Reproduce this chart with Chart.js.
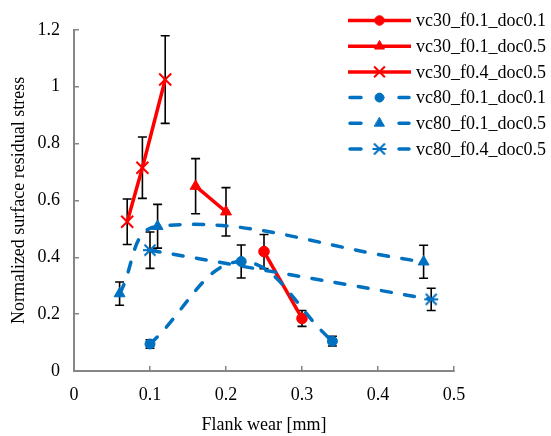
<!DOCTYPE html>
<html><head><meta charset="utf-8">
<script src="https://cdn.jsdelivr.net/npm/chart.js@4.4.0/dist/chart.umd.min.js"></script>
<style>html,body{margin:0;padding:0;background:#fff}#wrap{width:551px;height:436px}</style>
</head><body><div id="wrap"><canvas id="c" width="551" height="436"></canvas></div>
<script>
// ---- data ----
const seriesLabels = ['vc30_f0.1_doc0.1','vc30_f0.1_doc0.5','vc30_f0.4_doc0.5','vc80_f0.1_doc0.1','vc80_f0.1_doc0.5','vc80_f0.4_doc0.5'];

const vc30_f01_doc01_x   = [0.25, 0.30];
const vc30_f01_doc01_y   = [0.42, 0.185];
const vc30_f01_doc01_err = [0.06, 0.028];

const vc30_f01_doc05_x   = [0.16, 0.20];
const vc30_f01_doc05_y   = [0.65, 0.56];
const vc30_f01_doc05_err = [0.097, 0.085];

const vc30_f04_doc05_x   = [0.07, 0.09, 0.12];
const vc30_f04_doc05_y   = [0.525, 0.715, 1.025];
const vc30_f04_doc05_err = [0.08, 0.108, 0.154];

const vc80_f01_doc01_x   = [0.10, 0.22, 0.34];
const vc80_f01_doc01_y   = [0.095, 0.385, 0.105];
const vc80_f01_doc01_err = [0.015, 0.058, 0.017];

const vc80_f01_doc05_x   = [0.06, 0.11, 0.46];
const vc80_f01_doc05_y   = [0.272, 0.509, 0.384];
const vc80_f01_doc05_err = [0.041, 0.077, 0.058];

const vc80_f04_doc05_x   = [0.10, 0.47];
const vc80_f04_doc05_y   = [0.425, 0.252];
const vc80_f04_doc05_err = [0.064, 0.039];

const xAxisTitle = 'Flank wear [mm]';
const yAxisTitle = 'Normalized surface residual stress';
const xMin = 0, xMax = 0.5, xStep = 0.1;
const yMin = 0, yMax = 1.2, yStep = 0.2;

// ---- build ----
const RED = '#FF0000', BLUE = '#0070C0', AXIS = '#868686';
const FONT = 'Liberation Serif';
function pts(xs, ys){ return xs.map((x,i)=>({x:x, y:ys[i]})); }

// asterisk marker (x with horizontal bar), like the spreadsheet "star" marker
const starMarker = (function(){
  const c = document.createElement('canvas'); c.width = 16; c.height = 16;
  const g = c.getContext('2d'); g.strokeStyle = BLUE; g.lineWidth = 2;
  g.beginPath();
  g.moveTo(2.5,2.5); g.lineTo(13.5,13.5);
  g.moveTo(13.5,2.5); g.lineTo(2.5,13.5);
  g.moveTo(1,8); g.lineTo(15,8);
  g.stroke();
  return c;
})();

function redSeries(label, xs, ys, err, style, r){
  return {label, data: pts(xs,ys), errorBars: err, showLine:true, borderColor:RED, borderWidth:3.5,
    tension:0, pointStyle:style, pointRadius:r, pointHoverRadius:r, pointBackgroundColor:RED,
    pointBorderColor:RED, pointBorderWidth: style==='crossRot'?2:1, order:1};
}
function blueSeries(label, xs, ys, err, style, r){
  return {label, data: pts(xs,ys), errorBars: err, showLine:true, borderColor:BLUE, borderWidth:3.5,
    borderDash:[10,13.5], borderCapStyle:'round', tension:0.4, pointStyle:style, pointRadius:r, pointHoverRadius:r,
    pointBackgroundColor:BLUE, pointBorderColor:BLUE, pointBorderWidth:1, order:0};
}
const datasets = [
  redSeries(seriesLabels[0], vc30_f01_doc01_x, vc30_f01_doc01_y, vc30_f01_doc01_err, 'circle', 5.3),
  redSeries(seriesLabels[1], vc30_f01_doc05_x, vc30_f01_doc05_y, vc30_f01_doc05_err, 'triangle', 6.3),
  redSeries(seriesLabels[2], vc30_f04_doc05_x, vc30_f04_doc05_y, vc30_f04_doc05_err, 'crossRot', 8.5),
  blueSeries(seriesLabels[3], vc80_f01_doc01_x, vc80_f01_doc01_y, vc80_f01_doc01_err, 'circle', 5),
  blueSeries(seriesLabels[4], vc80_f01_doc05_x, vc80_f01_doc05_y, vc80_f01_doc05_err, 'triangle', 6.3),
  blueSeries(seriesLabels[5], vc80_f04_doc05_x, vc80_f04_doc05_y, vc80_f04_doc05_err, starMarker, 7)
];

const errorBarPlugin = {
  id:'errorBars',
  beforeDatasetsDraw(chart){
    const {ctx} = chart; const sx = chart.scales.x, sy = chart.scales.y;
    ctx.save(); ctx.strokeStyle = '#000'; ctx.lineWidth = 1.6;
    chart.data.datasets.forEach(ds => {
      ds.data.forEach((p,i) => {
        const e = ds.errorBars[i];
        const px = sx.getPixelForValue(p.x);
        const yt = sy.getPixelForValue(p.y + e), yb = sy.getPixelForValue(p.y - e);
        ctx.beginPath();
        ctx.moveTo(px, yt); ctx.lineTo(px, yb);
        ctx.moveTo(px-4.5, yt); ctx.lineTo(px+4.5, yt);
        ctx.moveTo(px-4.5, yb); ctx.lineTo(px+4.5, yb);
        ctx.stroke();
      });
    });
    ctx.restore();
  }
};

const legendPlugin = {
  id:'customLegend',
  afterDraw(chart){
    const ctx = chart.ctx;
    const x0 = 348, x1 = 411, mx = 379.5, tx = 416, y0 = 20.5, dy = 25.7;
    chart.data.datasets.forEach((ds,i) => {
      const y = y0 + i*dy;
      ctx.save();
      ctx.strokeStyle = ds.borderColor; ctx.lineWidth = ds.borderWidth;
      ctx.lineCap = ds.borderDash ? 'round' : 'butt';
      ctx.beginPath();
      if (ds.borderDash){ ctx.moveTo(x0+2,y); ctx.lineTo(361,y); ctx.moveTo(399,y); ctx.lineTo(x1-2,y); }
      else { ctx.moveTo(x0,y); ctx.lineTo(x1,y); }
      ctx.stroke();
      ctx.fillStyle = ds.pointBackgroundColor; ctx.strokeStyle = ds.pointBorderColor;
      ctx.lineWidth = ds.pointBorderWidth;
      Chart.helpers.drawPoint(ctx, {pointStyle: ds.pointStyle, radius: ds.pointRadius*0.9, borderWidth: ds.pointBorderWidth, rotation:0}, mx, y);
      ctx.fillStyle = '#000'; ctx.font = '18px "' + FONT + '"'; ctx.textBaseline = 'middle'; ctx.textAlign = 'left';
      ctx.fillText(ds.label, tx, y + 1);
      ctx.restore();
    });
  }
};

function fmt(v){ return String(Number(v.toFixed(2))); }

new Chart(document.getElementById('c'), {
  type:'scatter',
  data:{datasets},
  options:{
    responsive:false, animation:false,
    layout:{padding:{top:13, right:97, left:0, bottom:0}},
    plugins:{legend:{display:false}, tooltip:{enabled:false}},
    scales:{
      x:{type:'linear', min:xMin, max:xMax,
        ticks:{stepSize:xStep, padding:18, color:'#000', maxRotation:0, font:{family:FONT, size:18}, callback:fmt},
        grid:{drawOnChartArea:false, tickLength:-5, color:AXIS, lineWidth:1.5},
        border:{color:AXIS, width:2},
        title:{display:true, text:xAxisTitle, color:'#000', font:{family:FONT, size:18}, padding:{top:0, bottom:0}},
        afterFit(s){ s.height = 65; }
      },
      y:{type:'linear', min:yMin, max:yMax,
        ticks:{stepSize:yStep, padding:19, color:'#000', font:{family:FONT, size:18}, callback:fmt},
        grid:{drawOnChartArea:false, tickLength:-5, color:AXIS, lineWidth:1.5},
        border:{color:AXIS, width:2},
        title:{display:true, text:yAxisTitle, color:'#000', font:{family:FONT, size:18}, padding:{top:8, bottom:0}},
        afterFit(s){ s.width = 74; }
      }
    }
  },
  plugins:[errorBarPlugin, legendPlugin]
});
</script>
</body></html>
